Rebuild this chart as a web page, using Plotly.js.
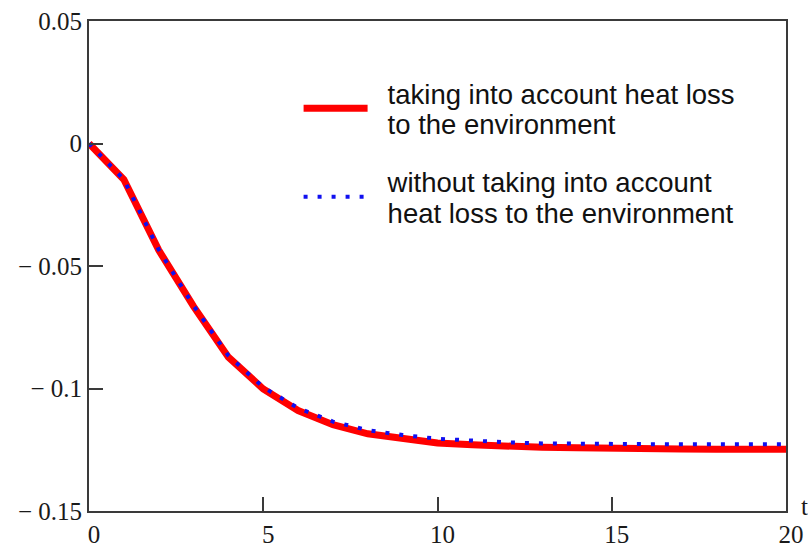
<!DOCTYPE html>
<html>
<head>
<meta charset="utf-8">
<script src="https://cdn.plot.ly/plotly-3.0.1.min.js"></script>
<style>html,body{margin:0;padding:0;background:#fff;}#chart{width:808px;height:549px;}</style>
</head>
<body>
<div id="chart"></div>
<script>
// time values
const t = [0,1,2,3,4,5,6,7,8,9,10,11,12,13,14,15,16,17,18,19,20];
// taking into account heat loss to the environment
const withLoss = [0,-0.0147,-0.0435,-0.0665,-0.0872,-0.1002,-0.1090,-0.1148,-0.1185,-0.1205,-0.1222,-0.1230,-0.1237,-0.1240,-0.1242,-0.1246,-0.1247,-0.1247,-0.1248,-0.1248,-0.1248];
// without taking into account heat loss to the environment
const withoutLoss = [0,-0.0147,-0.0433,-0.0662,-0.0866,-0.0995,-0.1080,-0.1135,-0.1170,-0.1190,-0.1205,-0.1213,-0.1220,-0.1224,-0.1226,-0.1226,-0.1227,-0.1228,-0.1228,-0.1228,-0.1228];
const seriesNames = ["taking into account heat loss<br>to the environment", "without taking into account<br>heat loss to the environment"];
const xTickVals = [0,5,10,15,20];
const yTickVals = [-0.15,-0.1,-0.05,0,0.05];
const yTickText = ["\u2212 0.15","\u2212 0.1","\u2212 0.05","0","0.05"];
const xAxisLabel = "t";

const axisColor = '#3a3a3a';
const tickFont = {family: '"Liberation Serif", "Times New Roman", serif', size: 25, color: '#1a1a1a'};
const legendFontSize = 27.5;

const traces = [
  {x: t, y: withLoss, name: seriesNames[0], mode: 'lines', type: 'scatter', legendgroup: 'a',
   line: {color: '#ff0000', width: 7}},
  {x: t, y: withoutLoss, name: seriesNames[1], mode: 'lines', type: 'scatter', legendgroup: 'b',
   line: {color: '#1010f0', width: 4, dash: '4px,10px'}}
];

const layout = {
  width: 808, height: 549,
  margin: {l: 89, r: 22, t: 21, b: 38},
  paper_bgcolor: '#fff', plot_bgcolor: '#fff',
  showlegend: true,
  legend: {x: 0.3007, y: 0.908, xanchor: 'left', yanchor: 'top', bgcolor: 'rgba(0,0,0,0)',
           font: {family: '"Liberation Sans", Arial, sans-serif', size: legendFontSize, color: '#111'},
           itemwidth: 64, traceorder: 'grouped', tracegroupgap: 14},
  xaxis: {range: [0, 20], tickvals: xTickVals, ticktext: xTickVals.map(String),
          showgrid: false, zeroline: false, showline: true, mirror: true,
          linecolor: axisColor, linewidth: 2, ticks: 'inside', ticklen: 14, tickwidth: 2,
          tickcolor: axisColor, tickfont: tickFont, ticklabelshift: 5},
  yaxis: {range: [-0.15, 0.05], tickvals: yTickVals, ticktext: yTickText,
          showgrid: false, zeroline: false, showline: true, mirror: true,
          linecolor: axisColor, linewidth: 2, ticks: 'inside', ticklen: 14, tickwidth: 2,
          tickcolor: axisColor, tickfont: tickFont},
  annotations: [{text: xAxisLabel, xref: 'paper', yref: 'paper', x: 1, y: 0,
                 xanchor: 'left', yanchor: 'bottom', xshift: 13, yshift: -11, showarrow: false,
                 font: tickFont}]
};

const gd = document.getElementById('chart');
Plotly.newPlot(gd, traces, layout, {displayModeBar: false, staticPlot: true}).then(function () {
  // tighten legend line spacing (Mathcad style) and widen gap between symbol and text
  const newSp = 1.1, textShift = 15;
  gd.querySelectorAll('.legend [clip-path]').forEach(function (el) { el.removeAttribute('clip-path'); });
  gd.querySelectorAll('.legend .legendtext').forEach(function (txt) {
    const lines = txt.querySelectorAll('tspan.line');
    const n = lines.length;
    const shift = (1.3 - newSp) * (n - 1) / 2 * legendFontSize;
    if (n >= 2) {
      lines.forEach(function (ln, i) {
        ln.setAttribute('dy', (i * newSp) + 'em');
        if (ln.hasAttribute('y')) ln.setAttribute('y', parseFloat(ln.getAttribute('y')) + shift);
        if (ln.hasAttribute('x')) ln.setAttribute('x', parseFloat(ln.getAttribute('x')) + textShift);
      });
      if (!lines[0].hasAttribute('y') && txt.hasAttribute('y')) {
        txt.setAttribute('y', parseFloat(txt.getAttribute('y')) + shift);
      }
    }
    if (!(lines.length && lines[0].hasAttribute('x')) && txt.hasAttribute('x')) {
      txt.setAttribute('x', parseFloat(txt.getAttribute('x')) + textShift);
    }
  });
});
</script>
</body>
</html>
